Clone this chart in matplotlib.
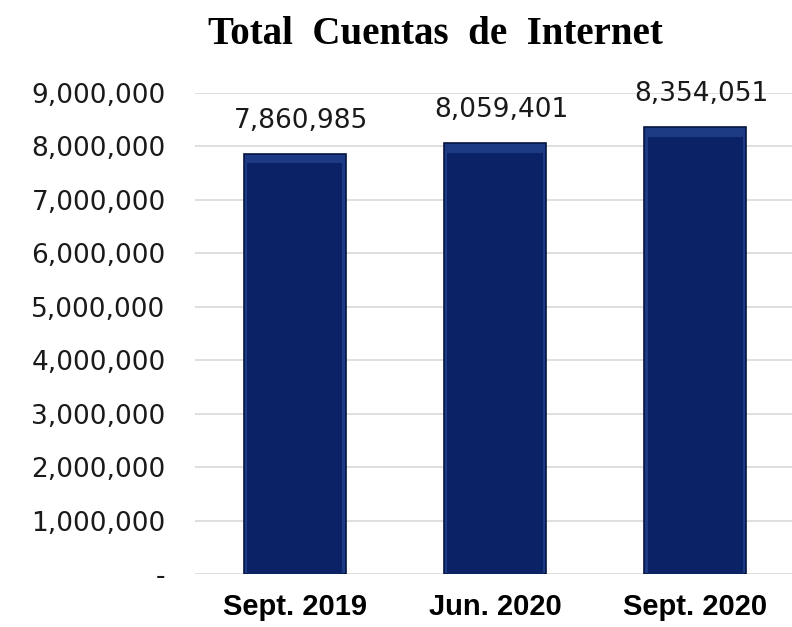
import matplotlib.pyplot as plt

categorias = ["Sept. 2019", "Jun. 2020", "Sept. 2020"]
cuentas = [7860985, 8059401, 8354051]
yticks = [0, 1000000, 2000000, 3000000, 4000000, 5000000, 6000000, 7000000, 8000000, 9000000]

fig = plt.figure(figsize=(7.92, 6.27), dpi=100)
ax = fig.add_axes([0.246, 0.0845, 0.758, 0.7675])

x = range(len(categorias))
# outer bar (lighter bevel colour) and inner darker face
ax.bar(x, cuentas, width=0.51, color="#1d3a85", edgecolor="#061540", linewidth=1.2, zorder=3)
ax.bar(x, [v - 180000 for v in cuentas], width=0.475, color="#0c2266", linewidth=0, zorder=4)

for i, v in enumerate(cuentas):
    ax.text(i + 0.03, v + 620000, f"{v:,}", ha="center", va="center",
            fontsize=19, family="DejaVu Sans", color="#1a1a1a")

ax.set_xlim(-0.5, 2.5)
ax.set_ylim(0, 9000000)
ax.set_yticks(yticks)
ax.set_yticklabels(["-"] + [f"{v:,}" for v in yticks[1:]], family="DejaVu Sans",
                   fontsize=19, color="#1a1a1a")
ax.set_xticks(list(x))
ax.set_xticklabels(categorias, family="Liberation Sans", fontweight="bold", fontsize=21)
ax.tick_params(axis="y", length=0, pad=21)
ax.tick_params(axis="x", length=0, pad=14)
ax.grid(axis="y", color="#d9d9d9", linewidth=1.2, zorder=0)
for s in ax.spines.values():
    s.set_visible(False)

fig.text(0.55, 0.945, "Total  Cuentas  de  Internet", ha="center", va="center",
         family="Liberation Serif", fontweight="bold", fontsize=28)

fig.savefig("out.png", dpi=100)
